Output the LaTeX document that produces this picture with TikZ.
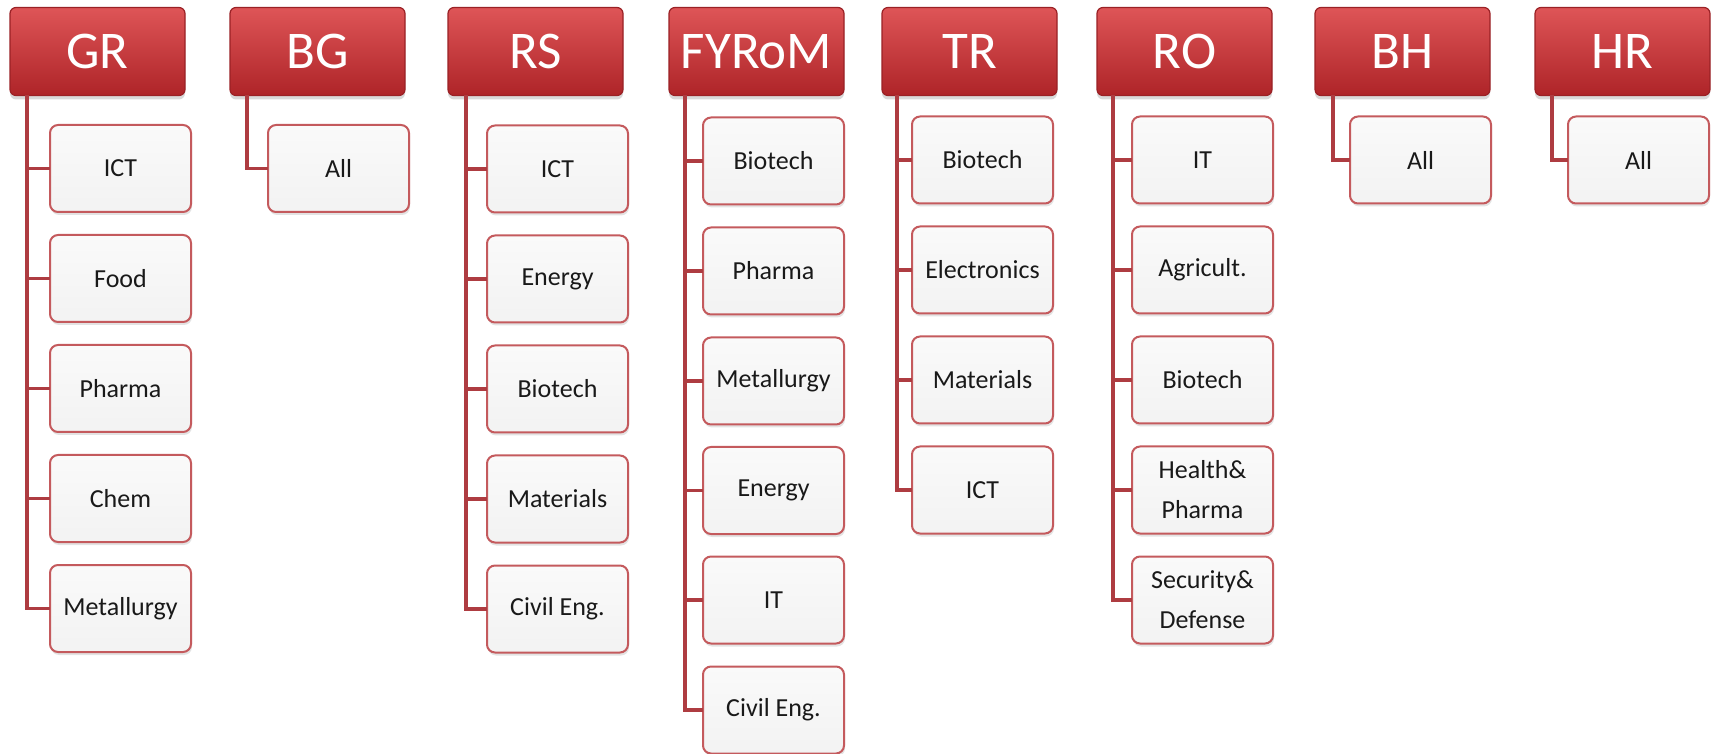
\documentclass[tikz,border=0pt]{standalone}
\usepackage{fontspec}
\setmainfont{Carlito}
\usetikzlibrary{shadows}

\definecolor{landtop}{HTML}{DE5557}
\definecolor{landmid}{HTML}{CC3336}
\definecolor{landbot}{HTML}{AE2428}
\definecolor{landedge}{HTML}{9A2125}
\definecolor{sectoredge}{HTML}{C45A5D}
\definecolor{branchred}{HTML}{AE3C41}

\begin{document}
\begin{tikzpicture}[x=0.5pt, y=-0.5pt,
  land/.style={rounded corners=3pt, draw=landedge, line width=0.6pt,
    top color=landtop, middle color=landmid, bottom color=landbot,
    minimum width=87.5pt, minimum height=44pt, inner sep=0pt, outer sep=0pt,
    text=white, font=\fontsize{26.5}{30}\selectfont,
    drop shadow={shadow xshift=0pt, shadow yshift=-2pt, opacity=0.3}},
  sector/.style={rounded corners=4pt, draw=sectoredge, line width=1pt,
    top color=black!2, bottom color=black!5,
    minimum width=70.5pt, minimum height=43.5pt, inner sep=0pt, outer sep=0pt,
    align=center, text=black!90, font=\fontsize{13}{20}\selectfont,
    drop shadow={shadow xshift=0.5pt, shadow yshift=-1.5pt, opacity=0.22}},
  branch/.style={draw=branchred, line width=1.7pt}]
\useasboundingbox (0,0) rectangle (1715,754);

% countries
\node[land] (gr) at (97.5,51.5) {GR};
\node[land] (bg) at (317.5,51.5) {BG};
\node[land] (rs) at (535.5,51.5) {RS};
\node[land] (fyrom) at (756.5,51.5) {FYRoM};
\node[land] (tr) at (969.5,51.5) {TR};
\node[land] (ro) at (1184.5,51.5) {RO};
\node[land] (bh) at (1402.5,51.5) {BH};
\node[land] (hr) at (1622.5,51.5) {HR};

% sectors
\node[sector] (gr1) at (120.5,168.5) {ICT};
\node[sector] (gr2) at (120.5,278.5) {Food};
\node[sector] (gr3) at (120.5,388.5) {Pharma};
\node[sector] (gr4) at (120.5,498.5) {Chem};
\node[sector] (gr5) at (120.5,608.5) {Metallurgy};

\node[sector] (bg1) at (338.5,168.5) {All};

\node[sector] (rs1) at (557.5,169) {ICT};
\node[sector] (rs2) at (557.5,279) {Energy};
\node[sector] (rs3) at (557.5,389) {Biotech};
\node[sector] (rs4) at (557.5,499) {Materials};
\node[sector] (rs5) at (557.5,609) {Civil Eng.};

\node[sector] (fyrom1) at (773.5,161) {Biotech};
\node[sector] (fyrom2) at (773.5,271) {Pharma};
\node[sector] (fyrom3) at (773.5,381) {Metallurgy};
\node[sector] (fyrom4) at (773.5,490.5) {Energy};
\node[sector] (fyrom5) at (773.5,600) {IT};
\node[sector] (fyrom6) at (773.5,710) {Civil Eng.};

\node[sector] (tr1) at (982.5,160) {Biotech};
\node[sector] (tr2) at (982.5,270) {Electronics};
\node[sector] (tr3) at (982.5,380) {Materials};
\node[sector] (tr4) at (982.5,490) {ICT};

\node[sector] (ro1) at (1202.5,160) {IT};
\node[sector] (ro2) at (1202.5,270) {Agricult.};
\node[sector] (ro3) at (1202.5,380) {Biotech};
\node[sector] (ro4) at (1202.5,490) {Health\&\\Pharma};
\node[sector] (ro5) at (1202.5,600) {Security\&\\Defense};

\node[sector] (bh1) at (1420.5,160) {All};
\node[sector] (hr1) at (1638.5,160) {All};

% branches
\draw[branch] ([xshift=8.5pt]gr.south west) |- (gr1.west);
\draw[branch] ([xshift=8.5pt]gr.south west) |- (gr2.west);
\draw[branch] ([xshift=8.5pt]gr.south west) |- (gr3.west);
\draw[branch] ([xshift=8.5pt]gr.south west) |- (gr4.west);
\draw[branch] ([xshift=8.5pt]gr.south west) |- (gr5.west);
\draw[branch] ([xshift=8.5pt]bg.south west) |- (bg1.west);
\draw[branch] ([xshift=9pt]rs.south west) |- (rs1.west);
\draw[branch] ([xshift=9pt]rs.south west) |- (rs2.west);
\draw[branch] ([xshift=9pt]rs.south west) |- (rs3.west);
\draw[branch] ([xshift=9pt]rs.south west) |- (rs4.west);
\draw[branch] ([xshift=9pt]rs.south west) |- (rs5.west);
\draw[branch] ([xshift=8pt]fyrom.south west) |- (fyrom1.west);
\draw[branch] ([xshift=8pt]fyrom.south west) |- (fyrom2.west);
\draw[branch] ([xshift=8pt]fyrom.south west) |- (fyrom3.west);
\draw[branch] ([xshift=8pt]fyrom.south west) |- (fyrom4.west);
\draw[branch] ([xshift=8pt]fyrom.south west) |- (fyrom5.west);
\draw[branch] ([xshift=8pt]fyrom.south west) |- (fyrom6.west);
\draw[branch] ([xshift=7.5pt]tr.south west) |- (tr1.west);
\draw[branch] ([xshift=7.5pt]tr.south west) |- (tr2.west);
\draw[branch] ([xshift=7.5pt]tr.south west) |- (tr3.west);
\draw[branch] ([xshift=7.5pt]tr.south west) |- (tr4.west);
\draw[branch] ([xshift=8pt]ro.south west) |- (ro1.west);
\draw[branch] ([xshift=8pt]ro.south west) |- (ro2.west);
\draw[branch] ([xshift=8pt]ro.south west) |- (ro3.west);
\draw[branch] ([xshift=8pt]ro.south west) |- (ro4.west);
\draw[branch] ([xshift=8pt]ro.south west) |- (ro5.west);
\draw[branch] ([xshift=9pt]bh.south west) |- (bh1.west);
\draw[branch] ([xshift=8.5pt]hr.south west) |- (hr1.west);
\end{tikzpicture}
\end{document}
